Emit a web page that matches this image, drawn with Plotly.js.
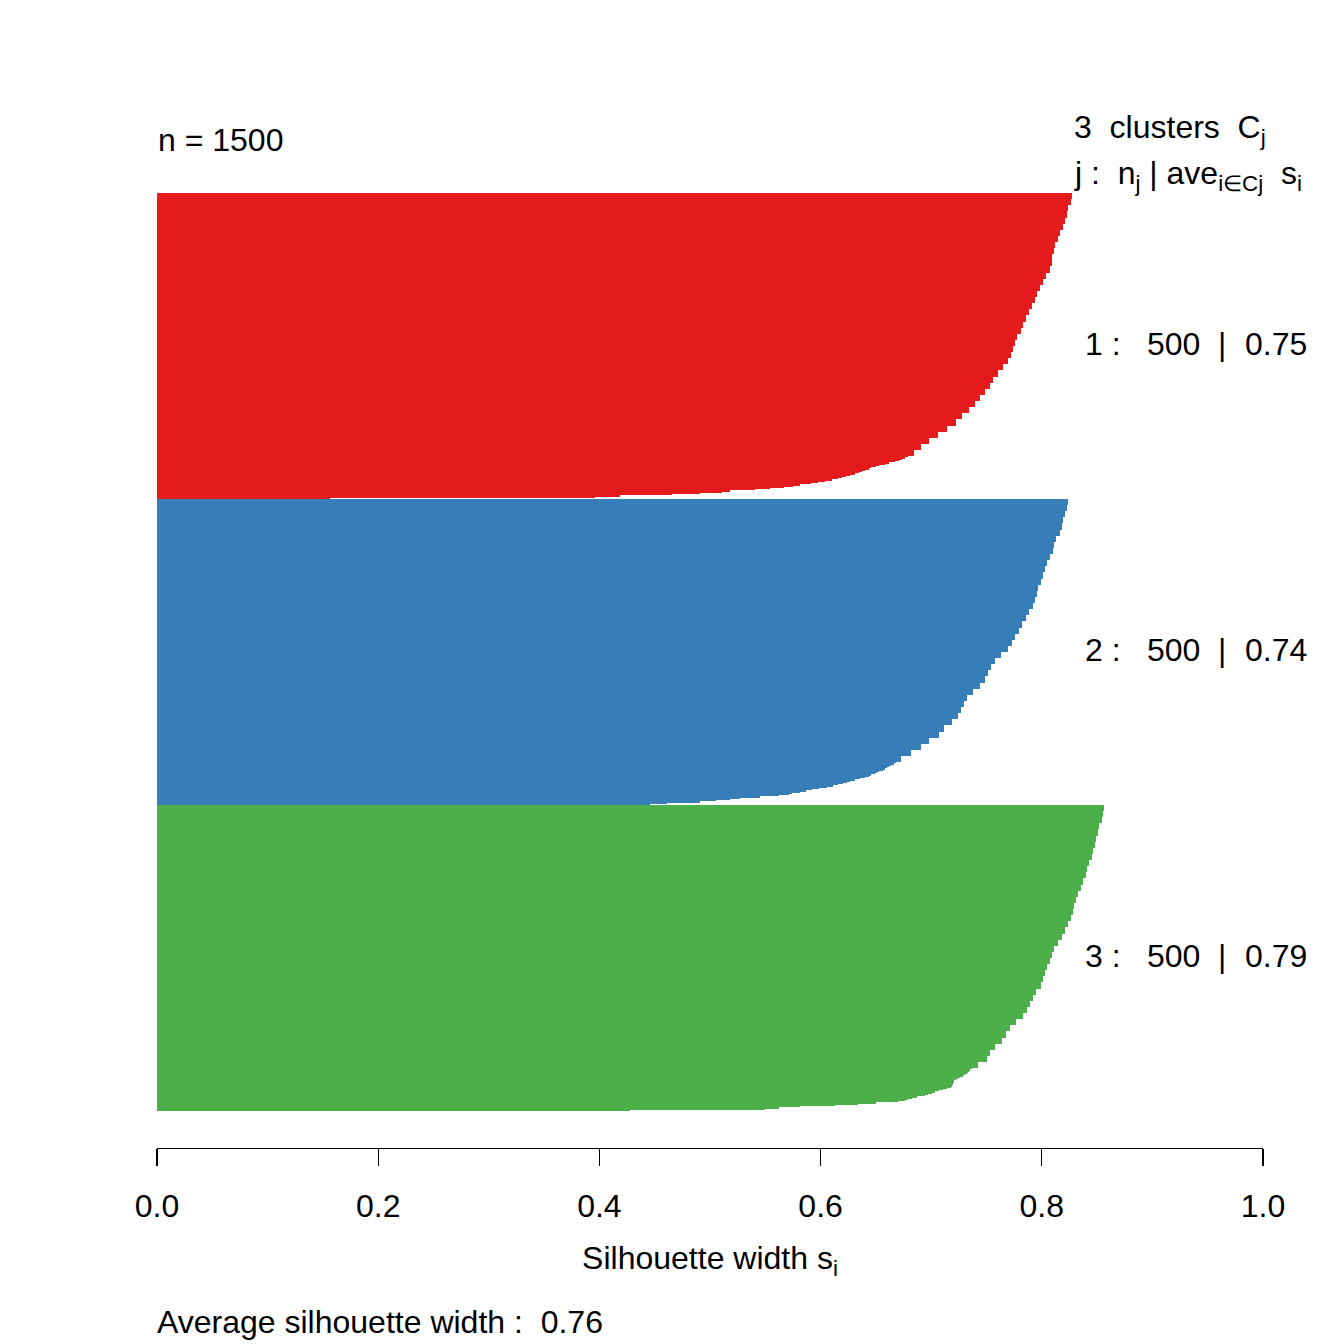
<!DOCTYPE html>
<html>
<head>
<meta charset="utf-8">
<script src="https://cdn.plot.ly/plotly-3.0.1.min.js"></script>
<style>html,body{margin:0;padding:0;background:#fff;}#plot{width:1344px;height:1344px;}
#plot .bars path{shape-rendering:crispEdges;}</style>
</head>
<body>
<div id="plot"></div>
<script>
// ---- data ----
const nTotal = 1500;
const avgWidth = 0.76;
const clusterIds = [1, 2, 3];
const clusterSizes = [500, 500, 500];
const clusterAvg = [0.75, 0.74, 0.79];
const xTickVals = [0, 0.2, 0.4, 0.6, 0.8, 1.0];
const xTickText = ["0.0", "0.2", "0.4", "0.6", "0.8", "1.0"];

// number of observations represented by each sorted silhouette step (top to bottom)
const groupCounts = [10,10,10,10,10,10,10,10,10,10,10,10,10,10,10,10,10,10,10,10,10,10,10,10,10,10,10,10,10,10,10,10,10,10,10,10,10,10,10,10,10,10,10,
  2,2,2,2,2,2,2,2,2,2,2,2,2,2,2,2,2,2,2,2,2,2,2,2,2,2,2,2,2,2,2,2,2,2,2];

const sil1 = [0.827,0.826,0.824,0.823,0.821,0.819,0.816,0.815,0.812,0.811,0.809,0.809,0.807,0.804,0.801,0.798,0.796,0.794,0.791,0.788,0.786,0.783,0.781,0.778,0.776,0.774,0.772,0.769,0.765,0.760,0.756,0.753,0.749,0.744,0.740,0.734,0.728,0.722,0.714,0.706,0.698,0.691,0.684,
  0.679,0.676,0.674,0.671,0.667,0.662,0.658,0.653,0.650,0.646,0.644,0.640,0.637,0.635,0.631,0.627,0.623,0.619,0.616,0.610,0.604,0.598,0.591,0.581,0.575,0.567,0.554,0.541,0.518,0.511,0.491,0.466,0.419,0.396,0.156];
const sil2 = [0.824,0.823,0.821,0.819,0.818,0.816,0.813,0.811,0.810,0.807,0.805,0.803,0.801,0.799,0.797,0.796,0.794,0.792,0.788,0.786,0.782,0.779,0.776,0.773,0.769,0.763,0.758,0.754,0.751,0.749,0.744,0.738,0.732,0.730,0.727,0.724,0.719,0.712,0.707,0.698,0.691,0.682,0.673,
  0.668,0.666,0.664,0.662,0.660,0.658,0.656,0.653,0.651,0.649,0.646,0.644,0.640,0.636,0.631,0.627,0.624,0.620,0.616,0.611,0.606,0.599,0.592,0.587,0.581,0.574,0.571,0.562,0.545,0.527,0.518,0.505,0.491,0.461,0.446];
const sil3 = [0.856,0.855,0.854,0.852,0.851,0.849,0.848,0.846,0.845,0.843,0.841,0.840,0.837,0.835,0.833,0.831,0.829,0.828,0.826,0.824,0.821,0.818,0.815,0.811,0.809,0.807,0.805,0.803,0.801,0.799,0.795,0.792,0.789,0.787,0.783,0.777,0.771,0.768,0.764,0.758,0.753,0.750,0.742,
  0.737,0.735,0.734,0.733,0.732,0.731,0.729,0.726,0.724,0.722,0.721,0.721,0.720,0.720,0.719,0.718,0.714,0.711,0.707,0.703,0.701,0.697,0.694,0.687,0.683,0.679,0.676,0.670,0.650,0.634,0.613,0.581,0.562,0.550,0.428];

// ---- styling ----
const colors = ['#E41A1C', '#377EB8', '#4DAF4A'];
const FONT = 'Liberation Sans, Arial, Helvetica, sans-serif';
const silData = [sil1, sil2, sil3];

const traces = [];
let offset = 0;
silData.forEach((vals, c) => {
  const pos = [], w = [];
  let cum = offset;
  groupCounts.forEach(n => { pos.push(cum + n / 2); w.push(n); cum += n; });
  traces.push({
    type: 'bar', orientation: 'h', x: vals, y: pos, width: w,
    marker: {color: colors[c], line: {width: 0}},
    hoverinfo: 'x', showlegend: false
  });
  offset += clusterSizes[c];
});

const pxX = p => (p - 157) / 1106;
const pxY = p => (1148 - p) / 1048;
const f = {family: FONT, size: 32, color: '#000'};

const annotations = [
  {text: 'n = ' + nTotal, xref: 'paper', yref: 'paper', x: pxX(156), y: pxY(140), xanchor: 'left', yanchor: 'middle', showarrow: false, font: f},
  {text: '3\u00a0\u00a0clusters\u00a0\u00a0C<sub>j</sub>', xref: 'paper', yref: 'paper', x: pxX(1072), y: pxY(130), xanchor: 'left', yanchor: 'middle', showarrow: false, font: f},
  {text: 'j :\u00a0\u00a0n<sub>j</sub> | ave<sub>i\u2208Cj</sub>\u00a0\u00a0s<sub>i</sub>', xref: 'paper', yref: 'paper', x: pxX(1072), y: pxY(175), xanchor: 'left', yanchor: 'middle', showarrow: false, font: f},
  {text: 'Average silhouette width :\u00a0\u00a0' + avgWidth.toFixed(2), xref: 'paper', yref: 'paper', x: pxX(155), y: pxY(1322), xanchor: 'left', yanchor: 'middle', showarrow: false, font: f}
];
let start = 0;
clusterIds.forEach((id, c) => {
  const mid = start + clusterSizes[c] / 2;
  annotations.push({text: id + ' :', xref: 'paper', yref: 'y', x: pxX(1083), y: mid, xanchor: 'left', yanchor: 'middle', yshift: 2, showarrow: false, font: f});
  annotations.push({text: String(clusterSizes[c]), xref: 'paper', yref: 'y', x: pxX(1202), y: mid, xanchor: 'right', yanchor: 'middle', yshift: 2, showarrow: false, font: f});
  annotations.push({text: '|', xref: 'paper', yref: 'y', x: pxX(1222), y: mid, xanchor: 'center', yanchor: 'middle', yshift: 2, showarrow: false, font: f});
  annotations.push({text: clusterAvg[c].toFixed(2), xref: 'paper', yref: 'y', x: pxX(1309), y: mid, xanchor: 'right', yanchor: 'middle', yshift: 2, showarrow: false, font: f});
  start += clusterSizes[c];
});

const layout = {
  width: 1344, height: 1344,
  margin: {l: 157, r: 81, t: 100, b: 196, pad: 0},
  paper_bgcolor: '#fff', plot_bgcolor: '#fff',
  barmode: 'overlay',
  font: f,
  xaxis: {
    range: [0, 1], fixedrange: true,
    showgrid: false, zeroline: false,
    showline: true, linecolor: '#000', linewidth: 1.3,
    ticks: 'outside', ticklen: 17, tickwidth: 1.3, tickcolor: '#000',
    tickvals: xTickVals, ticktext: xTickText,
    tickfont: f, ticklabelstandoff: 12,
    title: {text: 'Silhouette width s<sub>i</sub>', font: f, standoff: 24},
    automargin: false
  },
  yaxis: {
    range: [1560.5, -152], visible: false, showgrid: false, zeroline: false, fixedrange: true
  },
  annotations: annotations
};

Plotly.newPlot('plot', traces, layout, {displayModeBar: false, staticPlot: true});
</script>
</body>
</html>
